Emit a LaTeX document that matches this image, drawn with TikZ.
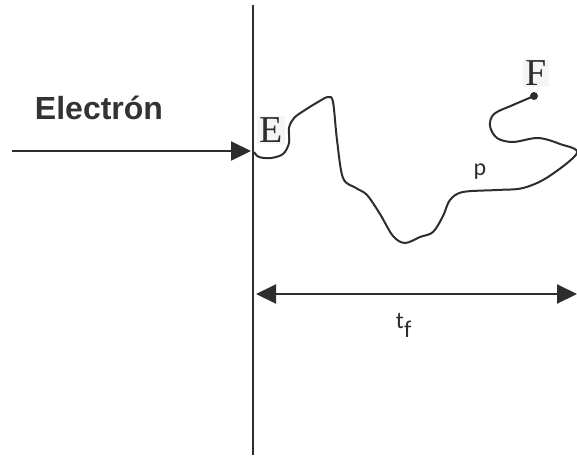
\documentclass[tikz,border=0pt]{standalone}
\usepackage{fontspec}
\setmainfont{Liberation Serif}
\newfontfamily\labelfont{Liberation Sans}
\newfontfamily\smallfont{Carlito}
\usetikzlibrary{arrows.meta, positioning, calc}
\definecolor{inkgray}{RGB}{45, 45, 45}

\begin{document}
\begin{tikzpicture}[x=0.5pt, y=-0.5pt,
    line/.style={draw=inkgray, line width=1pt},
    bigtip/.style={-{Triangle[length=10pt, width=9.5pt]}},
    pointlbl/.style={font=\fontsize{19}{21}\selectfont, inner sep=1pt, fill=gray!8, text=inkgray}]
    \useasboundingbox (0,0) rectangle (577,455);

    % --- pared / barrera ---
    \coordinate (walltop) at (253,5);
    \coordinate (wallbot) at (253,455);
    \draw[draw=inkgray, line width=0.8pt] (walltop) -- (wallbot);

    % --- electron entrante ---
    \node[font=\labelfont\bfseries\fontsize{16}{18}\selectfont, text=black!80] (electron) at (99,108) {Electrón};
    \coordinate (source) at (12,151);
    \coordinate (entry) at (251,151);
    \draw[line, bigtip] (source) -- (entry);

    % --- puntos E y F ---
    \node[pointlbl] (E) at (271,130) {E};
    \node[pointlbl] (F) at (536,73) {F};
    \coordinate (start) at (254,152);
    \coordinate (finish) at (534,96);
    \fill[inkgray] (finish) circle (2pt);

    % --- camino p ---
    \draw[line, line join=round] plot[smooth, tension=0.55] coordinates {
        (start) (259,157) (271,158) (283,154) (289,143) (289,128) (294,118)
        (305,110) (318,102) (328,97) (333,102) (337,140) (343,178) (356,188)
        (367,195) (380,214) (393,236) (405,243) (420,237) (433,232) (443,216)
        (450,200) (463,192) (497,190) (523,188) (548,177) (577,153) (560,144)
        (538,138) (513,142) (497,138) (490,126) (494,114) (513,105) (finish)};
    \node[font=\smallfont\fontsize{12}{14}\selectfont, text=inkgray] (p) at (480,172) {p};

    % --- intervalo de tiempo ---
    \coordinate (tleft) at (256,294);
    \coordinate (tright) at (577,294);
    \draw[line, {Triangle[length=10pt, width=9.5pt]}-{Triangle[length=10pt, width=9.5pt]}] (tleft) -- (tright);
    \node[font=\smallfont\fontsize{12}{14}\selectfont, text=inkgray, below=6pt of $(tleft)!0.46!(tright)$] (tf) {t\raisebox{-0.4em}{f}};
\end{tikzpicture}
\end{document}
